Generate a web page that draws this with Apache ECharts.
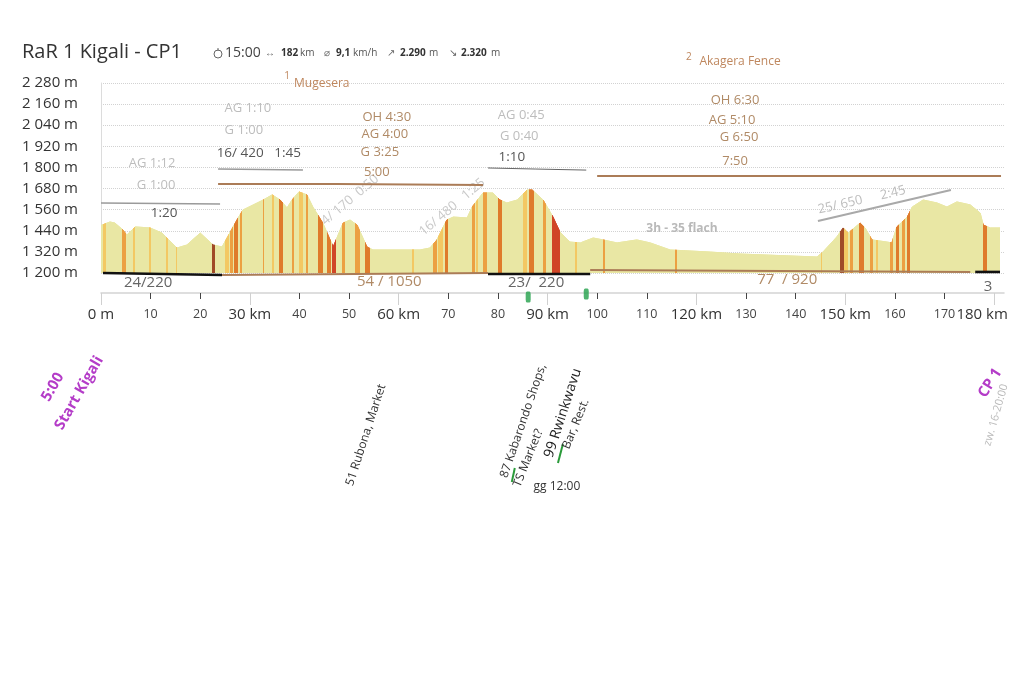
<!DOCTYPE html>
<html><head><meta charset="utf-8">
<script src="https://cdn.jsdelivr.net/npm/echarts@6/dist/echarts.min.js"></script>
<style>html,body{margin:0;padding:0;background:#fff}#c{width:1024px;height:684px}</style>
</head><body><div id="c"></div>
<script>
// ---------- data ----------
const profileKm = [0,1.8,2.8,4.4,5.2,6.9,9.9,12.3,15.3,17.3,20.0,22.6,24.4,25.4,27.4,28.6,32.7,34.5,36.1,37.5,38.5,39.9,41.5,42.7,44.7,46.8,48.8,50.2,51.6,53.6,54.8,64.3,66.3,67.7,69.7,71.0,73.8,74.8,77.0,79.0,80.4,81.8,83.9,85.9,86.9,89.1,91.1,92.5,94.5,96.6,99.2,101.2,104.0,108.0,110.7,114.7,122.8,128.8,136.0,144.3,145.5,148.3,149.6,150.6,153.0,154.0,155.4,158.4,159.4,160.4,162.5,163.5,165.7,168.5,170.5,172.5,175.2,177.2,177.8,179.2,181.2];
const profileElev = [1470,1490,1484,1445,1416,1462,1456,1427,1342,1359,1427,1359,1348,1399,1501,1558,1615,1644,1615,1570,1615,1661,1644,1575,1484,1348,1484,1501,1473,1348,1331,1331,1342,1388,1501,1518,1513,1575,1655,1655,1615,1598,1615,1672,1672,1615,1518,1433,1376,1371,1399,1388,1371,1388,1371,1331,1319,1308,1300,1291,1319,1405,1456,1427,1484,1456,1388,1376,1371,1462,1518,1575,1615,1598,1575,1604,1587,1541,1473,1456,1456];

// steep sections (km from / km to / grade class)
const stripeFrom  = [0.4,4.2,6.5,9.7,13.1,15.1,22.3,25.0,26.0,26.8,28.0,32.6,34.4,35.9,38.4,39.9,41.3,43.7,45.5,46.5,48.5,51.2,53.2,62.7,67.0,67.9,69.3,74.7,75.6,76.9,80.1,85.1,86.3,89.0,90.8,95.5,101.1,115.7,145.1,149.0,149.8,151.0,152.7,155.0,156.2,159.0,160.2,161.4,162.4,177.8];
const stripeTo    = [1.0,5.0,6.9,10.1,13.5,15.4,23.0,25.8,26.6,27.6,28.5,32.9,34.9,36.6,38.9,40.7,41.7,44.7,46.4,47.3,49.2,52.2,54.2,63.1,67.7,68.9,70.0,75.4,76.0,77.7,80.8,85.8,87.3,89.7,92.5,95.9,101.6,116.0,145.4,149.8,150.6,151.6,153.7,155.6,156.6,159.6,160.9,162.1,163.1,178.6];
const stripeGrade = [1,2,1,1,1,1,5,1,2,3,2,2,1,3,2,1,2,3,3,4,2,2,3,1,2,1,3,2,1,2,3,1,3,2,4,1,2,2,1,5,1,2,3,2,1,2,3,2,3,3];

const yMin = 1200, yMax = 2280, yStep = 120;
const majorKm = [0,30,60,90,120,150,180];
const minorKm = [10,20,40,50,70,80,100,110,130,140,160,170];

// route section lines [km, elevation] points
const guideLines = [
  {kind:'gray',   pts:[[23.6,1791],[40.7,1785]]},
  {kind:'gray',   pts:[[0,1598],[24.0,1592]]},
  {kind:'brown',  pts:[[23.6,1706],[47.6,1706],[47.6,1700],[77.0,1700]]},
  {kind:'thin',   pts:[[78.0,1797],[87.5,1791],[97.8,1785]]},
  {kind:'brown',  pts:[[100.0,1751],[181.4,1751]]},
  {kind:'slope',  pts:[[144.5,1496],[171.3,1672]]},
  {kind:'black',  pts:[[0.4,1200],[24.4,1189]]},
  {kind:'brown',  pts:[[24.4,1189],[78.0,1200]]},
  {kind:'black',  pts:[[78.0,1194],[98.6,1194]]},
  {kind:'brown',  pts:[[98.6,1217],[175.2,1206]]},
  {kind:'black',  pts:[[176.2,1206],[181.2,1206]]},
  {kind:'green',  pts:[[82.8,12],[83.4,92]]},
  {kind:'green',  pts:[[92.1,120],[93.1,228]]}
];
const stopKm = [86.1, 97.8];
const stopElev = [1063, 1081];

// notes: text, km, elevation, class, angle
const notes = [
  ['1', 37.5, 2320, 'sup', 0],
  ['Mugesera', 44.5, 2274, 'place', 0],
  ['2', 118.5, 2428, 'sup', 0],
  ['Akagera Fence', 128.8, 2399, 'place', 0],
  ['AG 1:10', 29.6, 2138, 'light', 0],
  ['G 1:00', 28.8, 2013, 'light', 0],
  ['16/ 420   1:45', 31.8, 1882, 'dark', 0],
  ['AG 1:12', 10.3, 1825, 'light', 0],
  ['G 1:00', 11.1, 1700, 'light', 0],
  ['1:20', 12.7, 1541, 'dark', 0],
  ['OH 4:30', 57.6, 2087, 'brown', 0],
  ['AG 4:00', 57.2, 1990, 'brown', 0],
  ['G 3:25', 56.2, 1888, 'brown', 0],
  ['5:00', 55.6, 1774, 'brown', 0],
  ['AG 0:45', 84.7, 2098, 'light', 0],
  ['G 0:40', 84.3, 1979, 'light', 0],
  ['1:10', 82.8, 1859, 'dark', 0],
  ['OH 6:30', 127.8, 2183, 'brown', 0],
  ['AG 5:10', 127.2, 2070, 'brown', 0],
  ['G 6:50', 128.6, 1973, 'brown', 0],
  ['7:50', 127.8, 1837, 'brown', 0],
  ['25/ 650', 149.0, 1587, 'light', 13],
  ['2:45', 159.6, 1655, 'light', 13],
  ['3h - 35 flach', 117.1, 1450, 'flat', 0],
  ['4/ 170  0:50', 50.2, 1615, 'ghost', 40],
  ['16/ 480   1:25', 70.8, 1575, 'ghost', 40],
  ['24/220', 9.5, 1143, 'seg', 0],
  ['54 / 1050', 58.1, 1149, 'segBrown', 0],
  ['23/  220', 87.7, 1143, 'seg', 0],
  ['77  / 920', 138.3, 1160, 'segBrown', 0],
  ['3', 178.8, 1120, 'seg', 0],
  ['5:00', -9.7, 552, 'purple', 60],
  ['Start Kigali', -4.4, 518, 'purple', 60],
  ['51 Rubona, Market', 53.4, 279, 'stop', 72],
  ['87 Kabarondo Shops,', 85.1, 359, 'stop', 71],
  ['TS Market?', 86.1, 148, 'stop', 68],
  ['99 Rwinkwavu', 93.1, 404, 'stopBig', 72],
  ['Bar, Rest.', 95.7, 342, 'stop', 68],
  ['gg 12:00', 91.9, -16, 'stop', 0],
  ['CP 1', 179.2, 575, 'purple', 58],
  ['zw. 16-20:00', 180.4, 393, 'cpnote', 74]
];

const titleText = 'RaR 1 Kigali - CP1';
const statParts = [['15:00','t'],['↔','a'],['182','b'],['km','u'],['⌀','a'],['9,1','b'],['km/h','u'],['↗','a'],['2.290','b'],['m','u'],['↘','a'],['2.320','b'],['m','u']];
const statX = [225,265,281,300,324,336,353,387,400,429,449,461,491];

// ---------- styles ----------
const FONT = '"Open Sans", "Noto Sans", sans-serif';
const gradeColors = ['#e9e7a4','#f3c863','#eca042','#df7b2b','#d04526','#a04a27'];
const lineKinds = {
  gray:{color:'#9a9a9a', width:1.5}, brown:{color:'#ab7c57', width:2}, thin:{color:'#666', width:1},
  slope:{color:'#a9a9a9', width:2}, black:{color:'#111', width:2.6}, green:{color:'#2a9a3a', width:2}
};
const noteStyles = {
  sup:{fill:'#bf875e', size:10}, place:{fill:'#bf875e', size:12},
  light:{fill:'#bdbdbd', size:13}, dark:{fill:'#555', size:13.5}, brown:{fill:'#b08a66', size:13},
  flat:{fill:'#b9b9b9', size:12, weight:'bold'}, ghost:{fill:'#c9c9c9', size:13},
  seg:{fill:'#666', size:15}, segBrown:{fill:'#b08a66', size:15},
  purple:{fill:'#b43cc8', size:15, weight:'bold'}, stop:{fill:'#333', size:12},
  stopBig:{fill:'#222', size:14}, cpnote:{fill:'#bbb', size:11}
};
const statStyles = {t:{size:14, fill:'#444'}, a:{size:10, fill:'#666'}, b:{size:10, fill:'#333', weight:'bold'}, u:{size:10, fill:'#555'}};

function fmtElev(v){ const th = Math.floor(v/1000), r = v%1000; return th + ' ' + String(r).padStart(3,'0') + ' m'; }
function fmtMajor(v){ if (v === 0) return '0 m'; if (v === 180) return '{e|' + v + ' km}'; return v + ' km'; }

const series = [{
  type:'line', data: profileKm.map((k,i)=>[k, profileElev[i]]), symbol:'none', showSymbol:false,
  lineStyle:{width:1}, areaStyle:{opacity:1}, z:2, silent:true
}];
guideLines.forEach(g => {
  const st = lineKinds[g.kind];
  series.push({type:'line', data:g.pts, symbol:'none', clip:false, silent:true, z:3,
    lineStyle:{color:st.color, width:st.width}});
});
series.push({type:'scatter', data: stopKm.map((k,i)=>[k, stopElev[i]]), symbol:'roundRect', symbolSize:[5,11],
  itemStyle:{color:'#22a04a'}, clip:false, silent:true, z:4});

const option = {
  animation:false,
  backgroundColor:'#fff',
  grid:{left:101, right:20, top:83, bottom:411, containLabel:false},
  xAxis:[
    {type:'value', min:0, max:182, position:'bottom', offset:20,
     axisLine:{show:true, lineStyle:{color:'#d3d3d3', width:1.5}},
     axisTick:{show:true, customValues:majorKm, length:12, lineStyle:{color:'#d0d0d0'}},
     axisLabel:{customValues:majorKm, formatter:fmtMajor, fontSize:15, color:'#333', margin:14, fontFamily:FONT,
       rich:{e:{fontSize:15, color:'#333', fontFamily:FONT, padding:[0,24,0,0]}}},
     splitLine:{show:false}},
    {type:'value', min:0, max:182, position:'bottom', offset:20,
     axisLine:{show:false},
     axisTick:{show:true, customValues:minorKm, length:6, lineStyle:{color:'#444'}},
     axisLabel:{customValues:minorKm, fontSize:12.5, color:'#444', margin:15, fontFamily:FONT},
     splitLine:{show:false}}
  ],
  yAxis:{type:'value', min:yMin, max:yMax, interval:yStep,
    axisLine:{show:true, lineStyle:{color:'#dcdcdc'}}, axisTick:{show:false},
    axisLabel:{formatter:fmtElev, align:'left', margin:79, fontSize:15, color:'#333', fontFamily:FONT},
    splitLine:{lineStyle:{type:'dotted', color:'#d2d2d2'}}},
  visualMap:{type:'piecewise', show:false, dimension:0, seriesIndex:0,
    pieces: stripeFrom.map((a,i)=>({gte:a, lt:stripeTo[i], color:gradeColors[stripeGrade[i]]})),
    outOfRange:{color:gradeColors[0]}},
  series
};

const chart = echarts.init(document.getElementById('c'));
chart.setOption(option);

const graphics = [];
graphics.push({type:'text', x:22, y:52, z:100, style:{text:titleText, fontSize:20, fontFamily:FONT, fill:'#333', verticalAlign:'middle'}});
graphics.push({type:'circle', shape:{cx:218, cy:54, r:4}, z:100, style:{fill:'none', stroke:'#666', lineWidth:1}});
graphics.push({type:'line', shape:{x1:218, y1:48, x2:218, y2:51}, z:100, style:{stroke:'#666', lineWidth:1}});
statParts.forEach((p,i) => {
  const s = statStyles[p[1]];
  graphics.push({type:'text', x:statX[i], y:53, z:100, style:{text:p[0], fontSize:s.size, fontWeight:s.weight||'normal', fontFamily:FONT, fill:s.fill, verticalAlign:'middle'}});
});
notes.forEach(n => {
  const p = chart.convertToPixel({xAxisIndex:0, yAxisIndex:0}, [n[1], n[2]]);
  const s = noteStyles[n[3]];
  graphics.push({type:'text', x:p[0], y:p[1], rotation:n[4]*Math.PI/180, z: n[3]==='ghost' ? 0 : 100,
    style:{text:n[0], align:'center', verticalAlign:'middle', fontSize:s.size, fontWeight:s.weight||'normal', fontFamily:FONT, fill:s.fill}});
});
chart.setOption({graphic:graphics});
</script></body></html>
